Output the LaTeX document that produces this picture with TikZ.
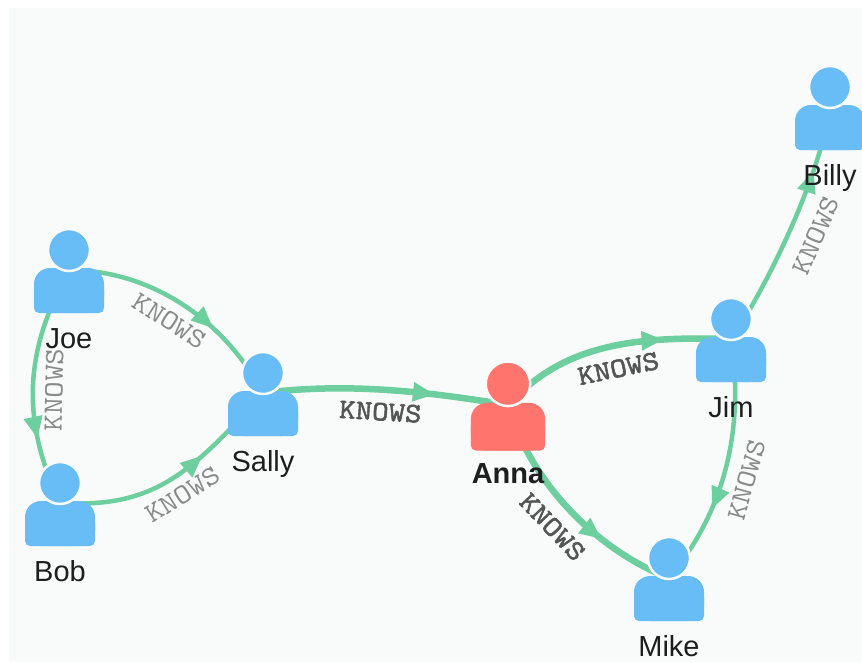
\documentclass[tikz,border=0pt]{standalone}
\usepackage{fontspec}
\setmainfont{Liberation Sans}
\newfontfamily\knowsfont[FakeStretch=1.12]{lmmono10-regular.otf}
\newfontfamily\knowsboldfont[FakeStretch=1.12, FakeBold=2]{lmmono10-regular.otf}
\usepackage{tikz}
\usetikzlibrary{positioning, arrows.meta, decorations.markings}

\definecolor{personblue}{HTML}{68BDF6}
\definecolor{annared}{HTML}{FF756E}
\definecolor{knowsgreen}{HTML}{6DCE9E}
\definecolor{panelbg}{HTML}{F9FBFB}
\definecolor{lblgray}{HTML}{8A8A8A}
\definecolor{lbldark}{HTML}{555555}
\definecolor{nametext}{HTML}{1E1E1E}

\tikzstyle{knows} = [color=knowsgreen, line width=4.5pt]
\tikzstyle{knowsthick} = [color=knowsgreen, line width=6.5pt]

\begin{document}
\begin{tikzpicture}[x=1pt, y=-1pt,
    arrowat/.style={postaction={decorate, decoration={markings,
        mark=at position #1 with {\arrow{Triangle[length=22pt, width=18pt]}}}}},
    knowslbl/.style={sloped, text=lblgray, inner sep=3pt,
        font=\fontsize{28}{28}\selectfont\knowsfont},
    knowsbold/.style={knowslbl, text=lbldark, font=\fontsize{28}{28}\selectfont\knowsboldfont},
    personlbl/.style={text=nametext, font=\fontsize{29}{29}\selectfont},
    pics/person/.style={code={
        \fill[#1, rounded corners=16pt] (-35,-2) rectangle (35,43);
        \fill[#1, rounded corners=5pt] (-35,15) rectangle (35,43);
        \fill[#1, draw=panelbg, line width=2.5pt] (0,-20) circle[radius=21pt];
    }}]
    \useasboundingbox (0,0) rectangle (862,662);
    \fill[white] (0,0) rectangle (862,662);
    \fill[panelbg] (9,8) rectangle (862,662);

    % people
    \coordinate (joe) at (69,270);
    \coordinate (bob) at (60,503);
    \coordinate (sally) at (263,393);
    \coordinate (anna) at (508,405);
    \coordinate (jim) at (731,339);
    \coordinate (mike) at (669,578);
    \coordinate (billy) at (830,107);

    % KNOWS edges
    \draw[knows, arrowat=0.66] (joe) .. controls +(80,0) and +(-40,-75) .. (sally)
        node[knowslbl, pos=0.5, below=7pt] {KNOWS};
    \draw[knows, arrowat=0.72] (joe) .. controls +(-44,80) and +(-40,-85) .. (bob)
        node[knowslbl, pos=0.52, below=7pt] {KNOWS};
    \draw[knows, arrowat=0.64] (bob) .. controls +(90,5) and +(-75,85) .. (sally)
        node[knowslbl, pos=0.53, below=5pt] {KNOWS};
    \draw[knowsthick, arrowat=0.7] (sally) .. controls +(80,-10) and +(-90,-15) .. (anna)
        node[knowsbold, pos=0.5, below=7pt] {KNOWS};
    \draw[knowsthick, arrowat=0.72] (anna) .. controls +(55,-60) and +(-100,-3) .. (jim)
        node[knowsbold, pos=0.55, below=8pt] {KNOWS};
    \draw[knowsthick, arrowat=0.68] (anna) .. controls +(25,85) and +(-65,-25) .. (mike)
        node[knowsbold, pos=0.48, below=9pt] {KNOWS};
    \draw[knows, arrowat=0.68] (jim) .. controls +(15,100) and +(50,-60) .. (mike)
        node[knowslbl, pos=0.5, below=9pt] {KNOWS};
    \draw[knows, arrowat=0.74] (jim) .. controls +(35,-50) and +(-10,70) .. (billy)
        node[knowslbl, pos=0.52, below=12pt] {KNOWS};

    % icons
    \pic at (joe) {person=personblue};
    \pic at (bob) {person=personblue};
    \pic at (sally) {person=personblue};
    \pic[scale=1.06] at (anna) {person=annared};
    \pic at (jim) {person=personblue};
    \pic at (mike) {person=personblue};
    \pic at (billy) {person=personblue};

    % names
    \node[personlbl, below=78pt of joe, anchor=base] (joeName) {Joe};
    \node[personlbl, below=78pt of bob, anchor=base] (bobName) {Bob};
    \node[personlbl, below=78pt of sally, anchor=base] (sallyName) {Sally};
    \node[personlbl, below=78pt of anna, anchor=base, font=\fontsize{29}{29}\selectfont\bfseries] (annaName) {Anna};
    \node[personlbl, below=78pt of jim, anchor=base] (jimName) {Jim};
    \node[personlbl, below=78pt of mike, anchor=base] (mikeName) {Mike};
    \node[personlbl, below=78pt of billy, anchor=base] (billyName) {Billy};
\end{tikzpicture}
\end{document}
